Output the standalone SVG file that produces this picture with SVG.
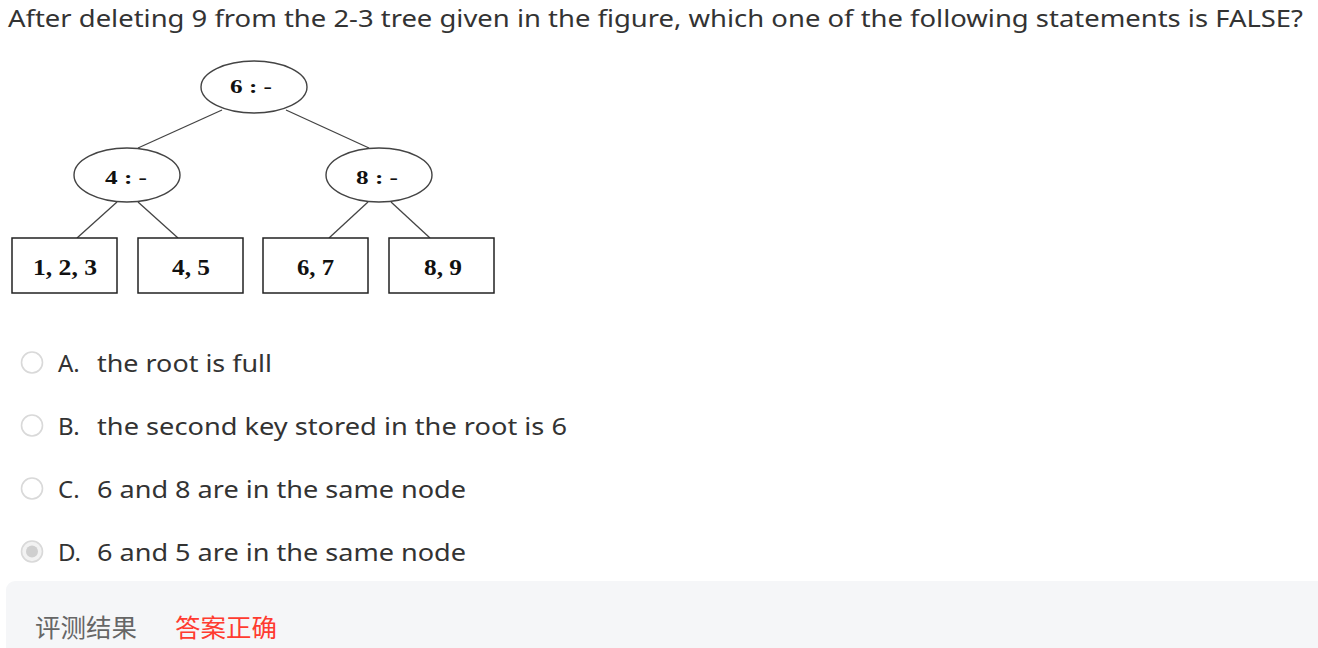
<svg xmlns="http://www.w3.org/2000/svg" width="1318" height="648" viewBox="0 0 1318 648">
<style>
.ui{font-family:"Noto Sans","Open Sans",sans-serif;font-size:24px;fill:#333}
.nd{fill:#fff;stroke:#444;stroke-width:1.4}
.bx{fill:#fff;stroke:#222;stroke-width:1.5}
.nt{font-family:"Liberation Serif","Times New Roman",serif;font-weight:bold;fill:#111;text-anchor:middle}
.ed{stroke:#444;stroke-width:1.3;fill:none}
.radio{fill:#fff;stroke:#d9d9d9;stroke-width:1.6}
.cjk{font-family:"Noto Sans CJK SC",sans-serif;font-size:25px}
</style>
<rect width="1318" height="648" fill="#fff"/>
<text class="ui" x="8" y="27" textLength="1295" lengthAdjust="spacingAndGlyphs">After deleting 9 from the 2-3 tree given in the figure, which one of the following statements is FALSE?</text>
<g id="connectors">
<line class="ed" x1="222" y1="110" x2="138" y2="148"/>
<line class="ed" x1="286" y1="110" x2="369" y2="148"/>
<line class="ed" x1="117" y1="202" x2="77" y2="238"/>
<line class="ed" x1="138" y1="202" x2="178" y2="238"/>
<line class="ed" x1="368" y1="202" x2="329" y2="238"/>
<line class="ed" x1="391" y1="202" x2="430" y2="238"/>
</g>
<g id="root">
<ellipse class="nd" cx="254" cy="87" rx="53" ry="26"/>
<text class="nt" x="251" y="93" font-size="19" textLength="42" lengthAdjust="spacingAndGlyphs">6 : -</text>
</g>
<g id="n4">
<ellipse class="nd" cx="127" cy="175" rx="53" ry="27"/>
<text class="nt" x="126" y="184" font-size="19" textLength="42" lengthAdjust="spacingAndGlyphs">4 : -</text>
</g>
<g id="n8">
<ellipse class="nd" cx="379" cy="175" rx="53" ry="27"/>
<text class="nt" x="377" y="184" font-size="19" textLength="42" lengthAdjust="spacingAndGlyphs">8 : -</text>
</g>
<g id="leaf1">
<rect class="bx" x="12" y="238" width="105" height="55"/>
<text class="nt" x="65" y="275" font-size="24" textLength="64" lengthAdjust="spacingAndGlyphs">1, 2, 3</text>
</g>
<g id="leaf2">
<rect class="bx" x="138" y="238" width="105" height="55"/>
<text class="nt" x="191" y="275" font-size="24" textLength="38" lengthAdjust="spacingAndGlyphs">4, 5</text>
</g>
<g id="leaf3">
<rect class="bx" x="263" y="238" width="105" height="55"/>
<text class="nt" x="315.5" y="275" font-size="24" textLength="37" lengthAdjust="spacingAndGlyphs">6, 7</text>
</g>
<g id="leaf4">
<rect class="bx" x="389" y="238" width="105" height="55"/>
<text class="nt" x="443" y="275" font-size="24" textLength="38" lengthAdjust="spacingAndGlyphs">8, 9</text>
</g>
<g id="optA">
<circle class="radio" cx="32" cy="362.5" r="10.5"/>
<text class="ui" x="58" y="372">A.</text>
<text class="ui" x="97" y="372" textLength="175" lengthAdjust="spacingAndGlyphs">the root is full</text>
</g>
<g id="optB">
<circle class="radio" cx="32" cy="425.5" r="10.5"/>
<text class="ui" x="58" y="435">B.</text>
<text class="ui" x="97" y="435" textLength="470" lengthAdjust="spacingAndGlyphs">the second key stored in the root is 6</text>
</g>
<g id="optC">
<circle class="radio" cx="32" cy="488.5" r="10.5"/>
<text class="ui" x="58" y="498">C.</text>
<text class="ui" x="97" y="498" textLength="369" lengthAdjust="spacingAndGlyphs">6 and 8 are in the same node</text>
</g>
<g id="optD">
<circle cx="32" cy="551.5" r="10.5" fill="#f2f2f2" stroke="#d9d9d9" stroke-width="1.6"/>
<circle cx="32" cy="551.5" r="6" fill="#cfcfcf"/>
<text class="ui" x="58" y="561">D.</text>
<text class="ui" x="97" y="561" textLength="369" lengthAdjust="spacingAndGlyphs">6 and 5 are in the same node</text>
</g>
<g id="result">
<rect x="6" y="581" width="1330" height="90" rx="9" fill="#f5f6f8"/>
<text class="cjk" x="35" y="637" fill="#666" textLength="102" lengthAdjust="spacingAndGlyphs">评测结果</text>
<text class="cjk" x="175" y="637" fill="#ff3b30" textLength="102" lengthAdjust="spacingAndGlyphs">答案正确</text>
</g>
</svg>
